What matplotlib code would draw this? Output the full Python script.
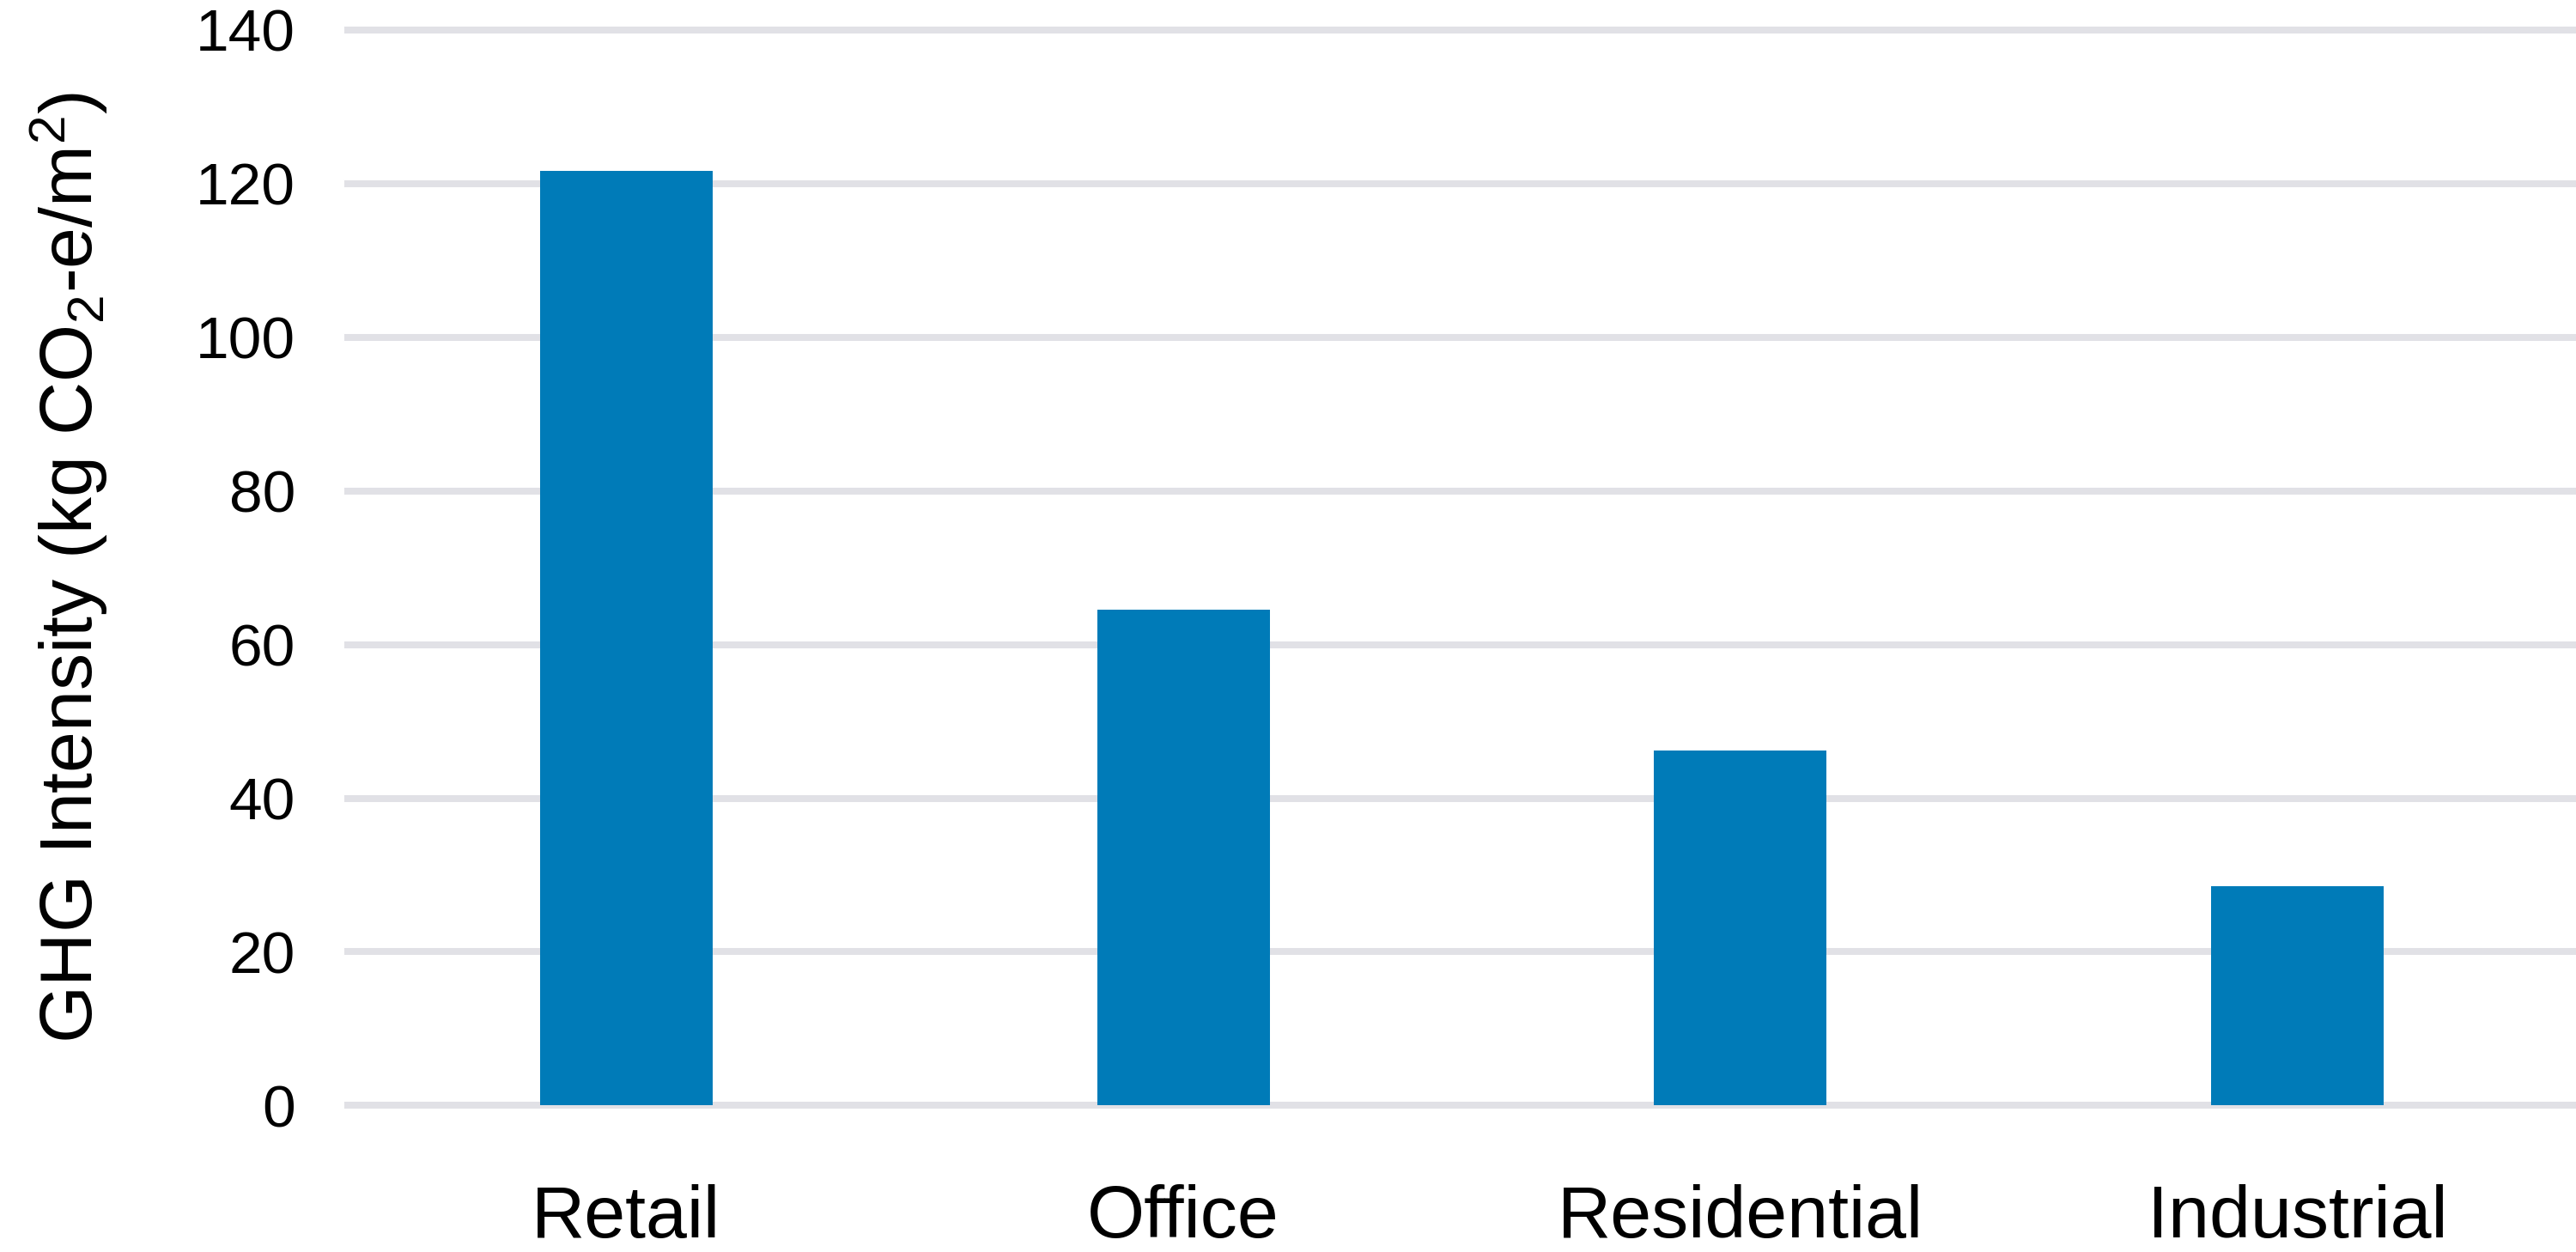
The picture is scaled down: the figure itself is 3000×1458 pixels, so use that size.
import numpy as np
import matplotlib
matplotlib.use("Agg")
import matplotlib.pyplot as plt

# data
categories = ["Retail", "Office", "Residential", "Industrial"]
intensity = [121.7, 64.6, 46.2, 28.5]
yticks = [0, 20, 40, 60, 80, 100, 120, 140]

plt.rcParams["font.family"] = ["Liberation Sans", "DejaVu Sans"]
plt.rcParams["mathtext.default"] = "regular"

fig = plt.figure(figsize=(15, 7.29), dpi=200)
ax = fig.add_axes([0.135, 0.117, 0.865, 0.859])

x = np.arange(len(categories))
ax.bar(x, intensity, width=0.31, color="#007bb8", zorder=3)

# light horizontal grid lines, drawn so the top and bottom ones are not clipped
for t in yticks:
    ax.axhline(t, color="#e1e1e6", linewidth=2.9, zorder=1, clip_on=False)

ax.set_xlim(-0.5, len(categories) - 0.5)
ax.set_ylim(0, 140)
ax.set_yticks(yticks)
ax.set_xticks(x)
ax.set_xticklabels(categories, fontsize=31)
ax.tick_params(axis="y", labelsize=25, length=0, pad=22)
ax.tick_params(axis="x", length=0, pad=33)
for s in ax.spines.values():
    s.set_visible(False)

ax.set_ylabel("GHG Intensity (kg CO$_2$-e/m$^2$)", fontsize=31, labelpad=36)

fig.savefig("out.png", dpi=200, facecolor="white")
